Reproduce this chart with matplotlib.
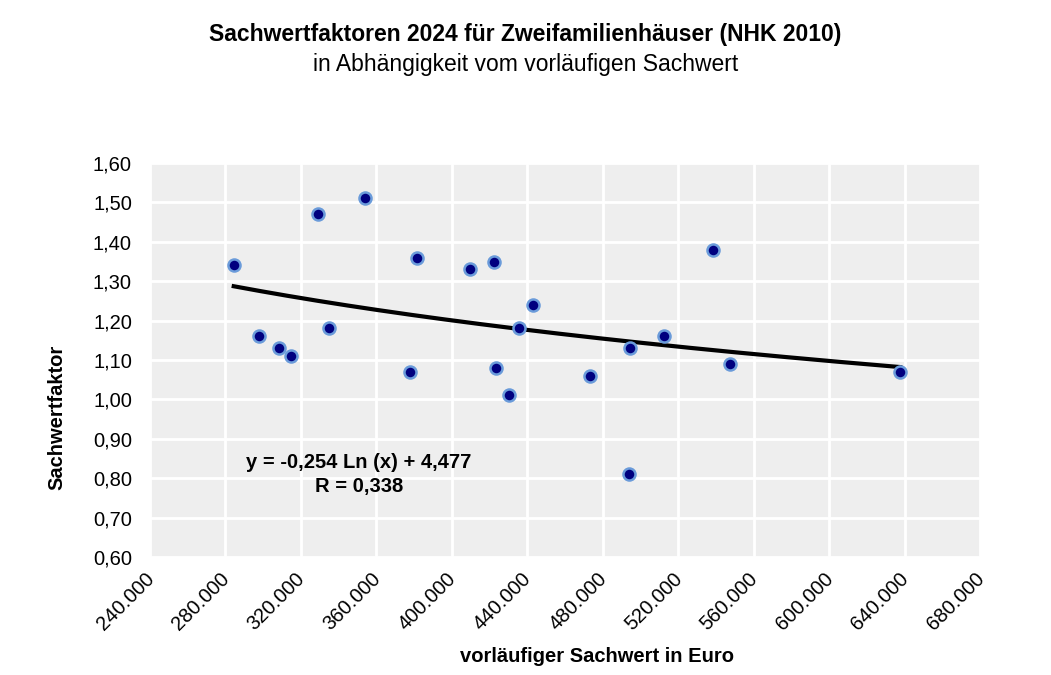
import matplotlib
matplotlib.use("Agg")
import matplotlib.pyplot as plt
from matplotlib.ticker import FuncFormatter, MultipleLocator
import matplotlib.transforms as mtransforms
import numpy as np

plt.rcParams["font.family"] = ["Liberation Sans", "DejaVu Sans"]

# Sachwert (Euro) and Sachwertfaktor
sachwert = [284400, 298000, 308600, 314600, 328900, 335100, 354000, 377600,
            381300, 409400, 422300, 423700, 430100, 435800, 443200, 473300,
            493700, 494600, 512500, 538300, 547700, 637700]
faktor = [1.34, 1.16, 1.13, 1.11, 1.47, 1.18, 1.51, 1.07,
          1.36, 1.33, 1.35, 1.08, 1.01, 1.18, 1.24, 1.06,
          0.81, 1.13, 1.16, 1.38, 1.09, 1.07]

# logarithmic trend line as printed in the chart
TREND_A = -0.254
TREND_B = 4.477

NAVY = "#00007F"
EDGE = "#6A9BDA"
BG = "#EEEEEE"
FS = 14.5

fig = plt.figure(figsize=(10.51, 6.75), dpi=100, facecolor="white")
ax = fig.add_axes([0.1427, 0.1748, 0.7897, 0.5837])
ax.set_facecolor(BG)

xs = np.linspace(min(sachwert), max(sachwert), 200)
ax.plot(xs, TREND_A * np.log(xs) + TREND_B, color="black", lw=3, zorder=3)
ax.scatter(sachwert, faktor, s=75, color=NAVY, edgecolors=EDGE, linewidths=1.8, zorder=4)

ax.set_xlim(240000, 680000)
ax.set_ylim(0.6, 1.6)
ax.xaxis.set_major_locator(MultipleLocator(40000))
ax.yaxis.set_major_locator(MultipleLocator(0.1))
ax.xaxis.set_major_formatter(FuncFormatter(lambda v, p: f"{int(round(v)):,}".replace(",", ".")))
ax.yaxis.set_major_formatter(FuncFormatter(lambda v, p: f"{v:.2f}".replace(".", ",")))
ax.grid(True, color="white", lw=2)
ax.set_axisbelow(True)
for s in ax.spines.values():
    s.set_visible(False)
ax.tick_params(length=0, labelsize=FS)
ax.tick_params(axis="y", pad=13)
ax.tick_params(axis="x", pad=9)
shift = mtransforms.ScaledTranslation(-4 / 72, 0, fig.dpi_scale_trans)
for lbl in ax.get_xticklabels():
    lbl.set_rotation(45)
    lbl.set_ha("right")
    lbl.set_va("top")
    lbl.set_rotation_mode("anchor")
    lbl.set_transform(lbl.get_transform() + shift)

ax.set_xlabel("vorläufiger Sachwert in Euro", fontsize=FS, fontweight="bold")
ax.xaxis.set_label_coords(0.539, -0.228)
ax.set_ylabel("Sachwertfaktor", fontsize=FS, fontweight="bold")
ax.yaxis.set_label_coords(-0.101, 0.355)

ax.text(0.252, 0.24, "y = -0,254 Ln (x) + 4,477", transform=ax.transAxes,
        ha="center", va="center", fontsize=FS, fontweight="bold")
ax.text(0.252, 0.178, "R = 0,338", transform=ax.transAxes,
        ha="center", va="center", fontsize=FS, fontweight="bold")

fig.text(0.5, 1 - 35 / 675, "Sachwertfaktoren 2024 für Zweifamilienhäuser (NHK 2010)",
         ha="center", va="center", fontsize=16.5, fontweight="bold")
fig.text(0.5, 1 - 65 / 675, "in Abhängigkeit vom vorläufigen Sachwert",
         ha="center", va="center", fontsize=16.5)

fig.savefig("out.png", dpi=100, facecolor="white")
